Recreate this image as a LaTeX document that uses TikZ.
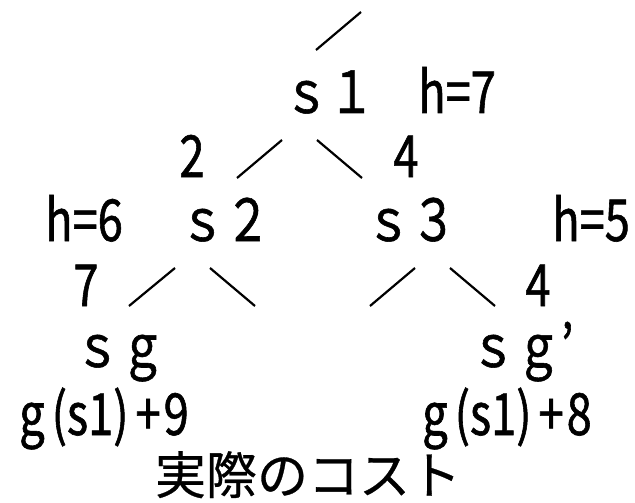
\documentclass[tikz,border=0pt]{standalone}
\usepackage{fontspec}
\setmainfont{Noto Sans CJK JP}
\newfontfamily\jpfont[FakeBold=0.6]{Noto Sans CJK JP}
\newfontfamily\narrowfont[FakeStretch=0.78, FakeBold=1]{Noto Sans CJK JP}
\newcommand{\TreeFont}{\narrowfont\fontsize{58}{58}\selectfont}
\newcommand{\CostFont}{\jpfont\fontsize{51}{51}\selectfont}
\newcommand{\gap}{\hspace{7pt}}

\begin{document}
\begin{tikzpicture}[
    x=1pt, y=-1pt,
    tree_text/.style={inner sep=0pt, anchor=base, font=\TreeFont},
    cost_text/.style={inner sep=0pt, anchor=base, font=\CostFont},
    branch/.style={black, line width=2.2pt}
]
    \useasboundingbox (0,0) rectangle (635,503);

    % 1. ROOT AND S1
    \coordinate (top_a) at (316,50);
    \coordinate (top_b) at (361,12);
    \draw[branch] (top_a) -- (top_b);
    \node[tree_text] (s1) at (329,113) {ｓ１};
    \node[tree_text] (h7) at (457,113) {h=7};

    % 2. FIRST BRANCHES
    \node[tree_text] (c2) at (192,177) {2};
    \node[tree_text] (c4) at (406,177) {4};
    \coordinate (b1_a) at (237,178);
    \coordinate (b1_b) at (282,140);
    \coordinate (b2_a) at (317,140);
    \coordinate (b2_b) at (362,178);
    \draw[branch] (b1_a) -- (b1_b);
    \draw[branch] (b2_a) -- (b2_b);

    % 3. S2 AND S3
    \node[tree_text] (h6) at (84,241) {h=6};
    \node[tree_text] (s2) at (225,241) {ｓ２};
    \node[tree_text] (s3) at (411,241) {ｓ３};
    \node[tree_text] (h5) at (591,241) {h=5};

    % 4. SECOND BRANCHES
    \node[tree_text] (c7) at (86,306) {7};
    \node[tree_text] (c4b) at (538,306) {4};
    \coordinate (b3_a) at (129,306);
    \coordinate (b3_b) at (175,268);
    \coordinate (b4_a) at (210,268);
    \coordinate (b4_b) at (255,306);
    \coordinate (b5_a) at (370,306);
    \coordinate (b5_b) at (415,268);
    \coordinate (b6_a) at (450,268);
    \coordinate (b6_b) at (495,306);
    \foreach \b in {3,...,6} {
        \draw[branch] (b\b_a) -- (b\b_b);
    }

    % 5. GOALS
    \node[tree_text] (sg) at (120,367) {ｓｇ};
    \node[tree_text] (sgp) at (522,367) {ｓｇ’};
    \node[tree_text] (g9) at (104,435) {g\gap(s1)\gap+\hspace{3pt}9};
    \node[tree_text] (g8) at (507,435) {g\gap(s1)\gap+\hspace{3pt}8};

    % 6. COST LABEL
    \node[cost_text] (cost) at (308,494) {実際のコスト};
\end{tikzpicture}
\end{document}
